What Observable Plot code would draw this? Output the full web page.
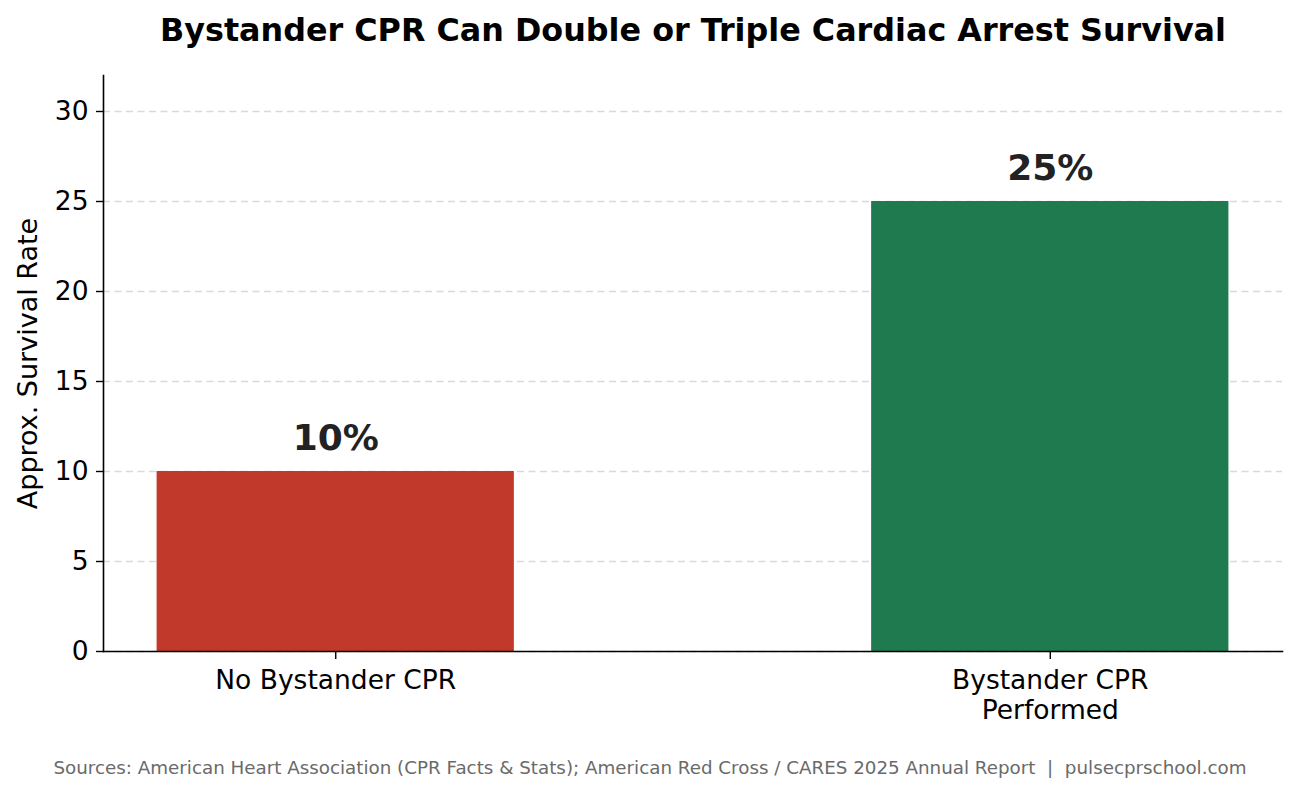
<!DOCTYPE html>
<html>
<head>
<meta charset="utf-8">
<script src="https://cdn.jsdelivr.net/npm/d3@7"></script>
<script src="https://cdn.jsdelivr.net/npm/@observablehq/plot@0.6"></script>
<style>
  html, body { margin: 0; padding: 0; background: #fff; }
  #wrap { position: relative; width: 1300px; height: 796px; font-family: "DejaVu Sans", sans-serif; }
  #title { position: absolute; left: 86px; width: 1214px; top: 14px; text-align: center; font-weight: bold; font-size: 31.8px; line-height: 1; color: #000; }
  #chart { position: absolute; left: 0; top: 60px; }
  #caption { position: absolute; left: 0; width: 1300px; top: 758.5px; text-align: center; font-size: 18.3px; line-height: 1; color: #6a6a6a; white-space: pre; }
</style>
</head>
<body>
<div id="wrap">
  <div id="title">Bystander CPR Can Double or Triple Cardiac Arrest Survival</div>
  <div id="chart"></div>
  <div id="caption">Sources: American Heart Association (CPR Facts &amp; Stats); American Red Cross / CARES 2025 Annual Report  |  pulsecprschool.com</div>
</div>
<script>
const categories = ["No Bystander CPR", "Bystander CPR\nPerformed"];
const survivalRates = [10, 25];
const valueLabels = ["10%", "25%"];
const barColors = ["#c0392b", "#1f7a4f"];
const yTicks = [0, 5, 10, 15, 20, 25, 30];
const yLabel = "Approx. Survival Rate";

const data = categories.map((c, i) => ({category: c, value: survivalRates[i], label: valueLabels[i]}));

const chart = Plot.plot({
  width: 1300,
  height: 680,
  marginLeft: 103,
  marginRight: 18,
  marginTop: 15,
  marginBottom: 89,
  style: {fontFamily: "DejaVu Sans, sans-serif", fontSize: "26.5px", color: "#000", background: "#fff"},
  x: {domain: categories, type: "band", paddingInner: 0.5, paddingOuter: 0.075, round: false},
  y: {domain: [0, 32]},
  color: {domain: categories, range: barColors},
  marks: [
    Plot.gridY(yTicks, {stroke: "#d9d9d9", strokeOpacity: 1, strokeWidth: 1.3, strokeDasharray: "7,4.5"}),
    Plot.barY(data, {x: "category", y: "value", fill: "category"}),
    Plot.text(data, {x: "category", y: "value", text: "label", dy: -22, lineAnchor: "bottom", fontSize: 36, fontWeight: "bold", fill: "#222"}),
    Plot.frame({anchor: "left", stroke: "#000", strokeWidth: 1.6}),
    Plot.frame({anchor: "bottom", stroke: "#000", strokeWidth: 1.6}),
    Plot.axisY(yTicks, {tickSize: 7, tickPadding: 8, tickFormat: d => String(d), stroke: "#000", strokeWidth: 1.4, label: null}),
    Plot.axisY(yTicks, {tickSize: 0, tickFormat: () => "", label: yLabel, labelAnchor: "center", labelArrow: "none", labelOffset: 86, fontSize: 27, strokeWidth: 0}),
    Plot.axisX({tickSize: 8, tickPadding: 8, lineHeight: 1.13, label: null, stroke: "#000", strokeWidth: 1.4})
  ]
});
document.getElementById("chart").appendChild(chart);
</script>
</body>
</html>
